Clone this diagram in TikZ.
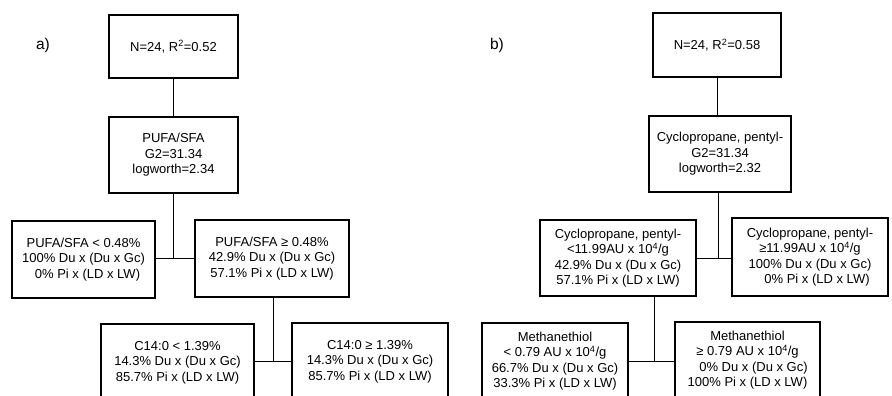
\documentclass[tikz,border=0pt]{standalone}
\usepackage{fontspec}
\setmainfont{Liberation Sans}
\usetikzlibrary{calc}

\begin{document}
\begin{tikzpicture}[
  x=1pt, y=-1pt,
  every node/.style={font=\fontsize{13}{15.5}\selectfont},
  leaf/.style={draw=black, line width=1.1pt, align=center, inner sep=0pt},
  link/.style={draw=black, line width=0.6pt},
  tag/.style={font=\fontsize{15.5}{18}\selectfont}
]
\clip (0,0) rectangle (892,396);
% (a) PUFA/SFA tree
\node[tag] (tagA) at (43,45) {a)};
\node[leaf, minimum width=129pt, minimum height=63pt] (rootA) at (173.5,46.5)
  {N=24, R\textsuperscript{2}=0.52};
\node[leaf, minimum width=129pt, minimum height=76pt] (splitA) at (173.5,155)
  {PUFA/SFA\\G2=31.34\\logworth=2.34};
\node[leaf, minimum width=143pt, minimum height=77pt] (lowA) at (83.5,259.5)
  {PUFA/SFA < 0.48\%\\100\% Du x (Du x Gc)\\\hspace*{8pt}0\% Pi x (LD x LW)};
\node[leaf, minimum width=154pt, minimum height=77pt] (highA) at (272,258.5)
  {PUFA/SFA ≥ 0.48\%\\42.9\% Du x (Du x Gc)\\57.1\% Pi x (LD x LW)};
\node[leaf, minimum width=153pt, minimum height=77pt] (c14lo) at (177.5,362.5)
  {C14:0 < 1.39\%\\14.3\% Du x (Du x Gc)\\85.7\% Pi x (LD x LW)};
\node[leaf, minimum width=156pt, minimum height=77pt] (c14hi) at (370,361.5)
  {C14:0 ≥ 1.39\%\\14.3\% Du x (Du x Gc)\\85.7\% Pi x (LD x LW)};
\coordinate (jA1) at (173.5,258);
\coordinate (jA2) at (273,361);
\draw[link] (rootA.south) -- (splitA.north);
\draw[link] (splitA.south) -- (jA1);
\draw[link] (lowA.east |- jA1) -- (highA.west |- jA1);
\draw[link] (highA.south -| jA2) -- (jA2);
\draw[link] (c14lo.east |- jA2) -- (c14hi.west |- jA2);
% (b) Cyclopropane tree
\node[tag] (tagB) at (497,45) {b)};
\node[leaf, minimum width=128pt, minimum height=64pt] (rootB) at (717,45)
  {N=24, R\textsuperscript{2}=0.58};
\node[leaf, minimum width=142pt, minimum height=76pt] (splitB) at (720,154)
  {Cyclopropane, pentyl-\\G2=31.34\\logworth=2.32};
\node[leaf, minimum width=156pt, minimum height=76pt] (lowB) at (618,258)
  {Cyclopropane, pentyl-\\<11.99AU x 10\textsuperscript{4}/g\\42.9\% Du x (Du x Gc)\\57.1\% Pi x (LD x LW)};
\node[leaf, minimum width=156pt, minimum height=78pt] (highB) at (810,257)
  {Cyclopropane, pentyl-\\≥11.99AU x 10\textsuperscript{4}/g\\100\% Du x (Du x Gc)\\\hspace*{14pt}0\% Pi x (LD x LW)};
\node[leaf, minimum width=146pt, minimum height=76pt] (methLo) at (555,361)
  {Methanethiol\\< 0.79 AU x 10\textsuperscript{4}/g\\66.7\% Du x (Du x Gc)\\33.3\% Pi x (LD x LW)};
\node[leaf, minimum width=145pt, minimum height=76pt] (methHi) at (747.5,360)
  {Methanethiol\\≥ 0.79 AU x 10\textsuperscript{4}/g\\\hspace*{12pt}0\% Du x (Du x Gc)\\100\% Pi x (LD x LW)};
\coordinate (jB1) at (718,258);
\coordinate (jB2) at (654,361);
\draw[link] (rootB.south) -- (rootB.south |- splitB.north);
\draw[link] (splitB.south -| jB1) -- (jB1);
\draw[link] (lowB.east |- jB1) -- (highB.west |- jB1);
\draw[link] (lowB.south -| jB2) -- (jB2);
\draw[link] (methLo.east |- jB2) -- (methHi.west |- jB2);
\end{tikzpicture}
\end{document}
